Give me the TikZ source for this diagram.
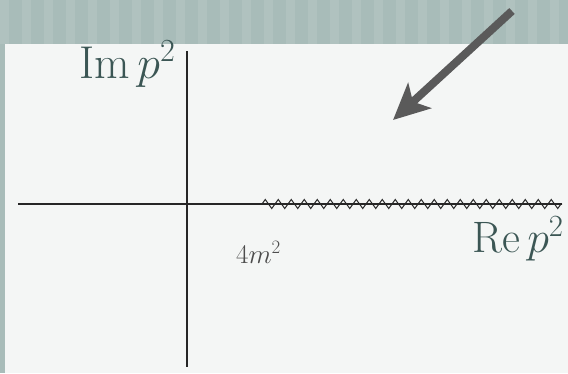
\RequirePackage{fix-cm}
\documentclass[tikz,border=0pt]{standalone}
\usetikzlibrary{arrows.meta,decorations.pathmorphing}
\definecolor{bandcol}{HTML}{A8BCB9}
\definecolor{stripecol}{HTML}{B0C2BF}
\definecolor{panelcol}{HTML}{F4F6F5}
\definecolor{labelcol}{HTML}{3B5654}
\definecolor{arrowcol}{HTML}{5A5A5A}
\tikzset{
  axisline/.style={draw=black!85, line width=1.1pt},
  cutline/.style={draw=black!85, line width=1pt, decorate,
    decoration={zigzag, segment length=13pt, amplitude=4.5pt}},
  biglabel/.style={text=labelcol, anchor=base west, inner sep=0pt},
  smalllabel/.style={text=black!70, anchor=base west, inner sep=0pt, font=\fontsize{27}{32}\selectfont},
  pointer/.style={draw=arrowcol, line width=8pt, -{Stealth[length=36pt, width=34pt, inset=9pt]}}
}
\begin{document}
\begin{tikzpicture}[x=1pt, y=-1pt]
\useasboundingbox (0,0) rectangle (568,373);
% background
\fill[bandcol] (0,0) rectangle (568,373);
\foreach \x in {0,22,...,560} {\fill[stripecol] (\x,0) rectangle ++(9,44);}
\fill[panelcol] (5,44) rectangle (568,373);
% axes
\coordinate (hl) at (18,204);
\coordinate (hr) at (562,204);
\coordinate (vt) at (187,51);
\coordinate (vb) at (187,367);
\coordinate (cs) at (262,204);
\draw[axisline] (hl) -- (hr);
\draw[axisline] (vt) -- (vb);
\draw[cutline] (cs) -- (hr);
% labels
\node[biglabel, font=\fontsize{46}{52}\selectfont] (im) at (79,78) {$\mathrm{Im}\,p^2$};
\node[biglabel, font=\fontsize{44}{50}\selectfont] (re) at (472,252) {$\mathrm{Re}\,p^2$};
\node[smalllabel] (fm) at (236,263) {$4m^2$};
% arrow
\coordinate (as) at (512,11);
\coordinate (at) at (393,120);
\draw[pointer] (as) -- (at);
\end{tikzpicture}
\end{document}
